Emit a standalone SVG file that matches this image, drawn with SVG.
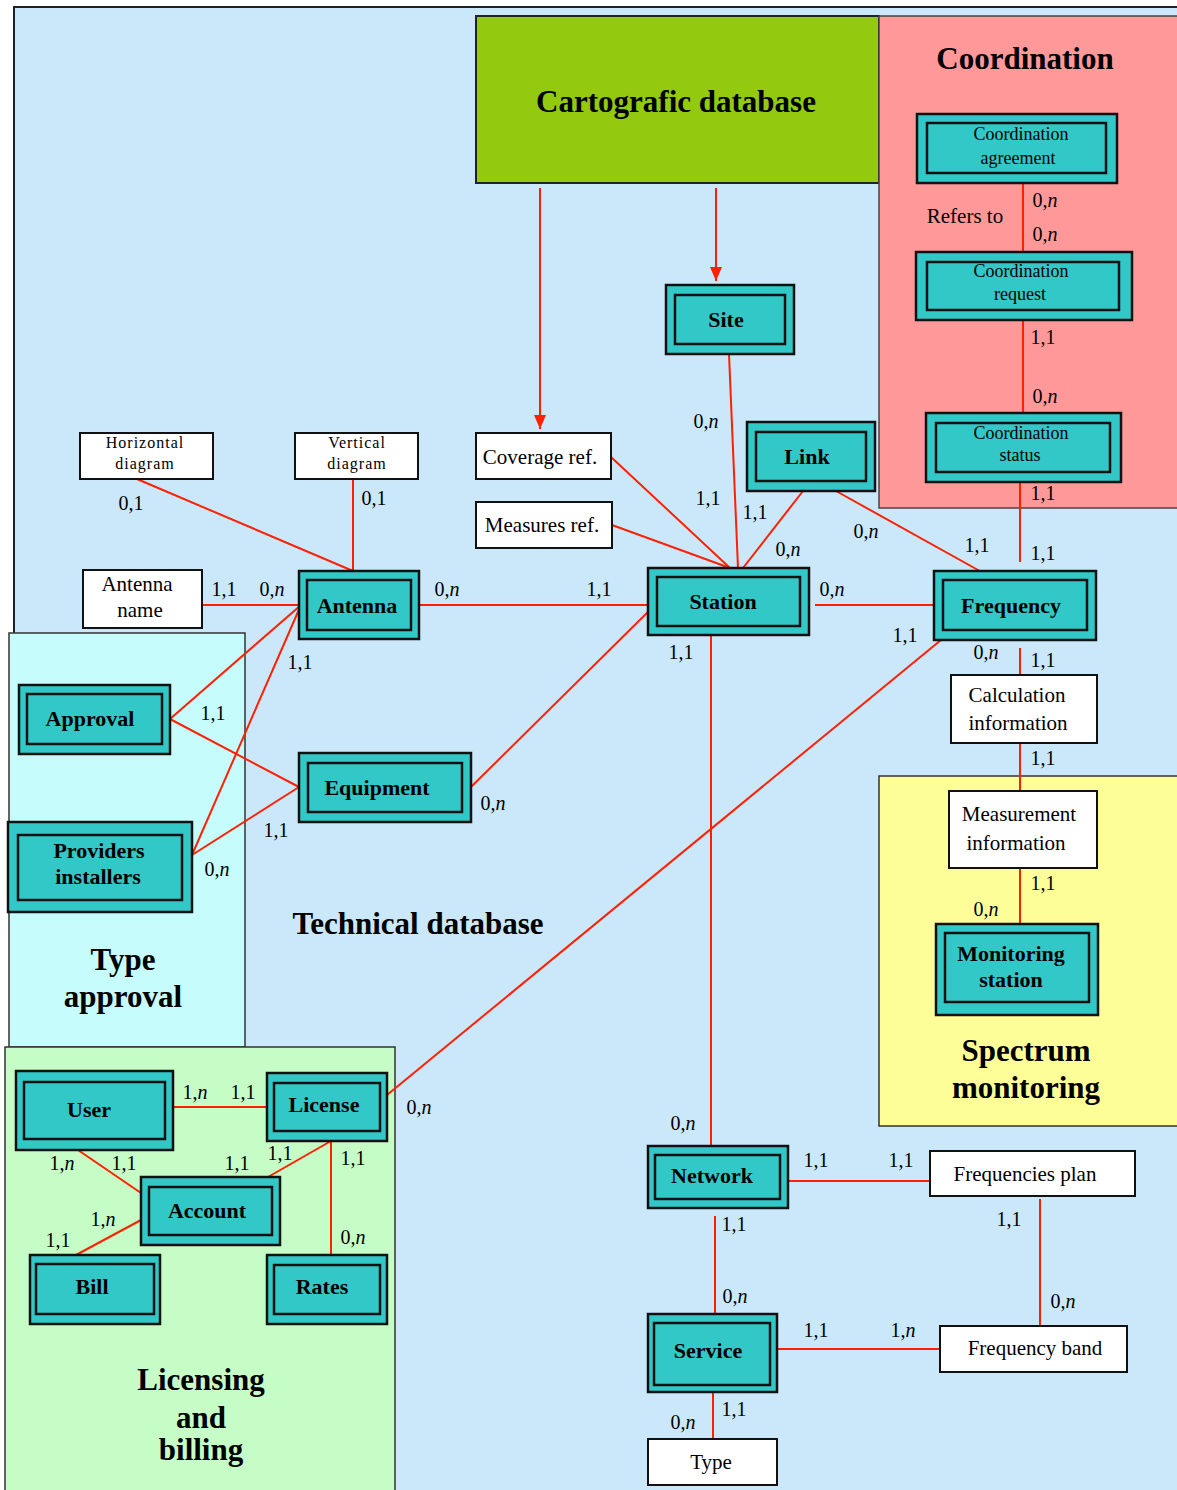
<svg xmlns="http://www.w3.org/2000/svg" width="1177" height="1490" viewBox="0 0 1177 1490">
  <style>
    .ent-o { fill: #33c8c8; stroke: #111; stroke-width: 2.5; }
    .ent-i { fill: none; stroke: #111; stroke-width: 2.5; }
    .attr { fill: #ffffff; stroke: #111; stroke-width: 2; }
    .et { font-family: "Liberation Serif", "Times New Roman", serif; font-weight: bold; font-size: 22px; text-anchor: middle; fill: #000; }
    .ct { font-family: "Liberation Serif", "Times New Roman", serif; font-size: 18px; text-anchor: middle; fill: #000; }
    .at { font-family: "Liberation Serif", "Times New Roman", serif; font-size: 21px; text-anchor: middle; fill: #000; }
    .sm { font-family: "Liberation Serif", "Times New Roman", serif; font-size: 16px; letter-spacing: 1px; text-anchor: middle; fill: #000; }
    .title { font-family: "Liberation Serif", "Times New Roman", serif; font-weight: bold; font-size: 31px; text-anchor: middle; fill: #000; }
    .card { font-family: "Liberation Serif", "Times New Roman", serif; font-size: 20px; text-anchor: middle; fill: #000; }
    .card tspan { font-style: italic; }
    .conn line { stroke: #ff2000; stroke-width: 2; fill: none; }
  </style>
  <defs>
    <marker id="arrow" markerUnits="userSpaceOnUse" markerWidth="14" markerHeight="14" refX="14" refY="7" orient="auto">
      <path d="M0,1 L14,7 L0,13 z" fill="#ff2000"/>
    </marker>
  </defs>

  <!-- regions -->
  <rect x="0" y="0" width="1177" height="1490" fill="#ffffff"/>
  <rect id="technical-db" x="14" y="7" width="1170" height="1490" fill="#cbe8fb" stroke="#222" stroke-width="2"/>
  <rect id="cartografic-db" x="476" y="16" width="403" height="167" fill="#93c90f" stroke="#222" stroke-width="2"/>
  <rect id="coordination-area" x="879" y="16" width="305" height="492" fill="#ff9999" stroke="#444" stroke-width="1.5"/>
  <rect id="type-approval-area" x="9" y="633" width="236" height="414" fill="#c6fcfc" stroke="#333" stroke-width="1.5"/>
  <rect id="licensing-area" x="5" y="1047" width="390" height="450" fill="#c6fdc6" stroke="#333" stroke-width="1.5"/>
  <rect id="spectrum-area" x="879" y="776" width="305" height="350" fill="#fefe99" stroke="#333" stroke-width="1.5"/>

  <text class="title" x="676" y="112">Cartografic database</text>
  <text class="title" x="1025" y="69">Coordination</text>
  <text class="title" x="418" y="934">Technical database</text>
  <text class="title" x="123" y="970">Type</text>
  <text class="title" x="123" y="1007">approval</text>
  <text class="title" x="201" y="1390">Licensing</text>
  <text class="title" x="201" y="1428">and</text>
  <text class="title" x="201" y="1460">billing</text>
  <text class="title" x="1026" y="1061">Spectrum</text>
  <text class="title" x="1026" y="1098">monitoring</text>

  <!-- connectors -->
  <g id="connectors" class="conn">
    <line x1="540" y1="188" x2="540" y2="429" marker-end="url(#arrow)"/>
    <line x1="716" y1="188" x2="716" y2="281" marker-end="url(#arrow)"/>
    <line x1="1023" y1="183" x2="1023" y2="252"/>
    <line x1="1023" y1="320" x2="1023" y2="413"/>
    <line x1="1020" y1="482" x2="1020" y2="562"/>
    <line x1="729" y1="354" x2="738" y2="568"/>
    <line x1="611" y1="457" x2="730" y2="568"/>
    <line x1="612" y1="525" x2="730" y2="568"/>
    <line x1="803" y1="491" x2="743" y2="568"/>
    <line x1="836" y1="491" x2="987" y2="575"/>
    <line x1="815" y1="605" x2="934" y2="605"/>
    <line x1="419" y1="605" x2="655" y2="605"/>
    <line x1="202" y1="605" x2="299" y2="605"/>
    <line x1="137" y1="479" x2="353" y2="571"/>
    <line x1="353" y1="479" x2="353" y2="571"/>
    <line x1="170" y1="719" x2="301" y2="605"/>
    <line x1="170" y1="719" x2="299" y2="787"/>
    <line x1="192" y1="855" x2="301" y2="605"/>
    <line x1="192" y1="855" x2="299" y2="787"/>
    <line x1="471" y1="787" x2="655" y2="605"/>
    <line x1="941" y1="640" x2="387" y2="1095"/>
    <line x1="711" y1="635" x2="711" y2="1146"/>
    <line x1="1020" y1="648" x2="1020" y2="675"/>
    <line x1="1020" y1="743" x2="1020" y2="791"/>
    <line x1="1020" y1="868" x2="1020" y2="924"/>
    <line x1="170" y1="1107" x2="267" y2="1107"/>
    <line x1="78" y1="1150" x2="141" y2="1193"/>
    <line x1="331" y1="1141" x2="268" y2="1177"/>
    <line x1="331" y1="1141" x2="331" y2="1255"/>
    <line x1="141" y1="1220" x2="76" y2="1255"/>
    <line x1="788" y1="1181" x2="930" y2="1181"/>
    <line x1="715" y1="1216" x2="715" y2="1314"/>
    <line x1="1040" y1="1199" x2="1040" y2="1326"/>
    <line x1="777" y1="1349" x2="940" y2="1349"/>
    <line x1="713" y1="1392" x2="713" y2="1439"/>
  </g>

  <!-- entities -->
  <g id="coord-agreement"><rect class="ent-o" x="917" y="114" width="200" height="69"/><rect class="ent-i" x="927" y="123" width="179" height="50"/><text class="ct" x="1021" y="140">Coordination</text><text class="ct" x="1018" y="164">agreement</text></g>
  <g id="coord-request"><rect class="ent-o" x="916" y="252" width="216" height="68"/><rect class="ent-i" x="927" y="262" width="192" height="48"/><text class="ct" x="1021" y="277">Coordination</text><text class="ct" x="1020" y="300">request</text></g>
  <g id="coord-status"><rect class="ent-o" x="926" y="413" width="195" height="69"/><rect class="ent-i" x="936" y="423" width="174" height="49"/><text class="ct" x="1021" y="439">Coordination</text><text class="ct" x="1020" y="461">status</text></g>
  <g id="site"><rect class="ent-o" x="666" y="285" width="128" height="69"/><rect class="ent-i" x="675" y="295" width="110" height="49"/><text class="et" x="726" y="327">Site</text></g>
  <g id="link"><rect class="ent-o" x="747" y="422" width="128" height="69"/><rect class="ent-i" x="756" y="432" width="110" height="49"/><text class="et" x="807" y="464">Link</text></g>
  <g id="station"><rect class="ent-o" x="648" y="568" width="161" height="67"/><rect class="ent-i" x="657" y="577" width="143" height="49"/><text class="et" x="723" y="609">Station</text></g>
  <g id="frequency"><rect class="ent-o" x="934" y="571" width="162" height="69"/><rect class="ent-i" x="943" y="580" width="144" height="50"/><text class="et" x="1011" y="613">Frequency</text></g>
  <g id="antenna"><rect class="ent-o" x="299" y="571" width="120" height="68"/><rect class="ent-i" x="307" y="580" width="104" height="50"/><text class="et" x="357" y="613">Antenna</text></g>
  <g id="equipment"><rect class="ent-o" x="299" y="753" width="172" height="69"/><rect class="ent-i" x="308" y="763" width="154" height="49"/><text class="et" x="377" y="795">Equipment</text></g>
  <g id="approval"><rect class="ent-o" x="19" y="685" width="151" height="69"/><rect class="ent-i" x="27" y="694" width="135" height="50"/><text class="et" x="90" y="726">Approval</text></g>
  <g id="providers"><rect class="ent-o" x="8" y="822" width="184" height="90"/><rect class="ent-i" x="18" y="835" width="164" height="65"/><text class="et" x="99" y="858">Providers</text><text class="et" x="98" y="884">installers</text></g>
  <g id="user"><rect class="ent-o" x="16" y="1071" width="157" height="79"/><rect class="ent-i" x="24" y="1082" width="141" height="57"/><text class="et" x="89" y="1117">User</text></g>
  <g id="license"><rect class="ent-o" x="267" y="1073" width="120" height="68"/><rect class="ent-i" x="274" y="1083" width="106" height="48"/><text class="et" x="324" y="1112">License</text></g>
  <g id="account"><rect class="ent-o" x="141" y="1177" width="139" height="68"/><rect class="ent-i" x="149" y="1187" width="123" height="48"/><text class="et" x="207" y="1218">Account</text></g>
  <g id="bill"><rect class="ent-o" x="30" y="1255" width="130" height="69"/><rect class="ent-i" x="36" y="1264" width="118" height="50"/><text class="et" x="92" y="1294">Bill</text></g>
  <g id="rates"><rect class="ent-o" x="267" y="1255" width="120" height="69"/><rect class="ent-i" x="274" y="1265" width="106" height="49"/><text class="et" x="322" y="1294">Rates</text></g>
  <g id="network"><rect class="ent-o" x="648" y="1146" width="140" height="62"/><rect class="ent-i" x="655" y="1155" width="125" height="44"/><text class="et" x="712" y="1183">Network</text></g>
  <g id="service"><rect class="ent-o" x="648" y="1314" width="129" height="78"/><rect class="ent-i" x="654" y="1323" width="116" height="62"/><text class="et" x="708" y="1358">Service</text></g>
  <g id="monitoring-station"><rect class="ent-o" x="936" y="924" width="162" height="91"/><rect class="ent-i" x="945" y="933" width="144" height="69"/><text class="et" x="1011" y="961">Monitoring</text><text class="et" x="1011" y="987">station</text></g>

  <!-- attribute boxes -->
  <g id="horizontal-diagram"><rect class="attr" x="80" y="433" width="133" height="46"/><text class="sm" x="145" y="448">Horizontal</text><text class="sm" x="145" y="469">diagram</text></g>
  <g id="vertical-diagram"><rect class="attr" x="295" y="433" width="123" height="46"/><text class="sm" x="357" y="448">Vertical</text><text class="sm" x="357" y="469">diagram</text></g>
  <g id="coverage-ref"><rect class="attr" x="476" y="433" width="135" height="46"/><text class="at" x="540" y="464">Coverage ref.</text></g>
  <g id="measures-ref"><rect class="attr" x="476" y="502" width="136" height="46"/><text class="at" x="542" y="532">Measures ref.</text></g>
  <g id="antenna-name"><rect class="attr" x="83" y="570" width="119" height="58"/><text class="at" x="137" y="591">Antenna</text><text class="at" x="140" y="617">name</text></g>
  <g id="calculation-info"><rect class="attr" x="951" y="675" width="146" height="68"/><text class="at" x="1017" y="702">Calculation</text><text class="at" x="1018" y="730">information</text></g>
  <g id="measurement-info"><rect class="attr" x="949" y="791" width="148" height="77"/><text class="at" x="1019" y="821">Measurement</text><text class="at" x="1016" y="850">information</text></g>
  <g id="frequencies-plan"><rect class="attr" x="930" y="1151" width="205" height="45"/><text class="at" x="1025" y="1181">Frequencies plan</text></g>
  <g id="frequency-band"><rect class="attr" x="940" y="1326" width="187" height="46"/><text class="at" x="1035" y="1355">Frequency band</text></g>
  <g id="type"><rect class="attr" x="648" y="1439" width="129" height="46"/><text class="at" x="711" y="1469">Type</text></g>

  <text class="at" x="965" y="223">Refers to</text>

  <!-- cardinalities -->
  <g id="cardinalities" class="card">
    <text x="1045" y="207">0,<tspan>n</tspan></text>
    <text x="1045" y="241">0,<tspan>n</tspan></text>
    <text x="1043" y="344">1,1</text>
    <text x="1045" y="403">0,<tspan>n</tspan></text>
    <text x="1043" y="500">1,1</text>
    <text x="1043" y="560">1,1</text>
    <text x="131" y="510">0,1</text>
    <text x="374" y="505">0,1</text>
    <text x="224" y="596">1,1</text>
    <text x="272" y="596">0,<tspan>n</tspan></text>
    <text x="447" y="596">0,<tspan>n</tspan></text>
    <text x="599" y="596">1,1</text>
    <text x="706" y="428">0,<tspan>n</tspan></text>
    <text x="708" y="505">1,1</text>
    <text x="755" y="519">1,1</text>
    <text x="788" y="556">0,<tspan>n</tspan></text>
    <text x="866" y="538">0,<tspan>n</tspan></text>
    <text x="977" y="552">1,1</text>
    <text x="832" y="596">0,<tspan>n</tspan></text>
    <text x="905" y="642">1,1</text>
    <text x="681" y="659">1,1</text>
    <text x="986" y="659">0,<tspan>n</tspan></text>
    <text x="1043" y="667">1,1</text>
    <text x="1043" y="765">1,1</text>
    <text x="1043" y="890">1,1</text>
    <text x="986" y="916">0,<tspan>n</tspan></text>
    <text x="300" y="669">1,1</text>
    <text x="213" y="720">1,1</text>
    <text x="493" y="810">0,<tspan>n</tspan></text>
    <text x="276" y="837">1,1</text>
    <text x="217" y="876">0,<tspan>n</tspan></text>
    <text x="419" y="1114">0,<tspan>n</tspan></text>
    <text x="195" y="1099">1,<tspan>n</tspan></text>
    <text x="243" y="1099">1,1</text>
    <text x="62" y="1170">1,<tspan>n</tspan></text>
    <text x="124" y="1170">1,1</text>
    <text x="237" y="1170">1,1</text>
    <text x="280" y="1160">1,1</text>
    <text x="353" y="1165">1,1</text>
    <text x="353" y="1244">0,<tspan>n</tspan></text>
    <text x="103" y="1226">1,<tspan>n</tspan></text>
    <text x="58" y="1247">1,1</text>
    <text x="683" y="1130">0,<tspan>n</tspan></text>
    <text x="816" y="1167">1,1</text>
    <text x="901" y="1167">1,1</text>
    <text x="734" y="1231">1,1</text>
    <text x="1009" y="1226">1,1</text>
    <text x="735" y="1303">0,<tspan>n</tspan></text>
    <text x="1063" y="1308">0,<tspan>n</tspan></text>
    <text x="816" y="1337">1,1</text>
    <text x="903" y="1337">1,<tspan>n</tspan></text>
    <text x="734" y="1416">1,1</text>
    <text x="683" y="1429">0,<tspan>n</tspan></text>
  </g>
</svg>
